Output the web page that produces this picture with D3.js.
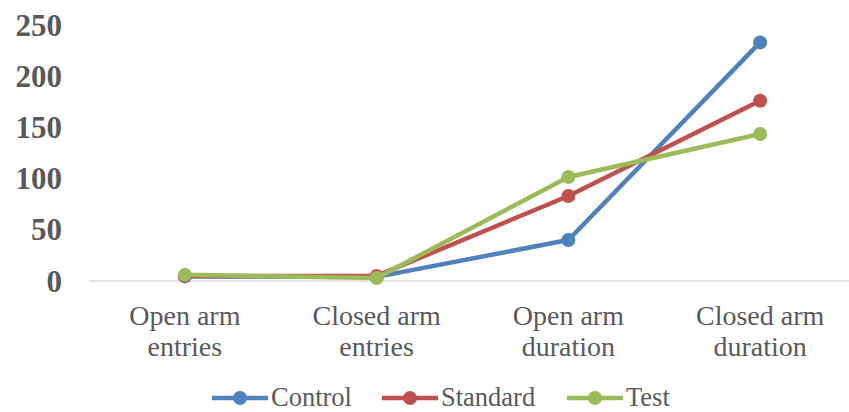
<!DOCTYPE html>
<html><head><meta charset="utf-8">
<script src="https://cdn.jsdelivr.net/npm/d3@7"></script>
<style>body{margin:0;background:#fff}svg{display:block}text{font-family:"Liberation Serif","Times New Roman",serif}</style>
</head><body>
<script>
const categories = [["Open arm","entries"],["Closed arm","entries"],["Open arm","duration"],["Closed arm","duration"]];
const seriesNames = ["Control","Standard","Test"];
const control = [4.5, 4, 40, 233];
const standard = [5, 5, 83, 176];
const test = [6, 3, 101.5, 143.5];
const yTicks = [0,50,100,150,200,250];
const colors = ["#4f81bd","#c0504d","#9bbb59"];

const W=849,H=412;
const svg=d3.select("body").append("svg").attr("width",W).attr("height",H);
const x=d3.scaleBand().domain(d3.range(categories.length)).range([89,856]);
const y=d3.scaleLinear().domain([0,250]).range([281,25]);

svg.append("line").attr("x1",89).attr("x2",856).attr("y1",y(0)).attr("y2",y(0)).attr("stroke","#d9d9d9").attr("stroke-width",1.5);

svg.selectAll(".yt").data(yTicks).enter().append("text")
 .attr("x",62).attr("y",d=>y(d)).attr("dy","0.34em").attr("text-anchor","end")
 .attr("font-weight","bold").attr("font-size",31).attr("fill","#595959").text(d=>d);

const xl=svg.selectAll(".xt").data(categories).enter().append("text")
 .attr("text-anchor","middle").attr("font-size",28).attr("fill","#595959");
xl.each(function(d,i){
  const t=d3.select(this);
  d.forEach((s,j)=>t.append("tspan").attr("x",x(i)+x.bandwidth()/2).attr("y",325+j*31).text(s));
});

const all=[control,standard,test];
const line=d3.line().x((d,i)=>x(i)+x.bandwidth()/2).y(d=>y(d));
all.forEach((s,k)=>{
  svg.append("path").datum(s).attr("d",line).attr("fill","none").attr("stroke",colors[k]).attr("stroke-width",4.5).attr("stroke-linejoin","round");
  svg.selectAll(".p"+k).data(s).enter().append("circle").attr("cx",(d,i)=>x(i)+x.bandwidth()/2).attr("cy",d=>y(d)).attr("r",7).attr("fill",colors[k]);
});

const legX=[212,382,567];
seriesNames.forEach((n,k)=>{
  const g=svg.append("g").attr("transform",`translate(${legX[k]},398)`);
  g.append("line").attr("x1",0).attr("x2",56).attr("stroke",colors[k]).attr("stroke-width",4.5);
  g.append("circle").attr("cx",28).attr("r",7).attr("fill",colors[k]);
  g.append("text").attr("x",59).attr("y",8).attr("font-size",26.5).attr("fill","#595959").text(n);
});
</script>
</body></html>
